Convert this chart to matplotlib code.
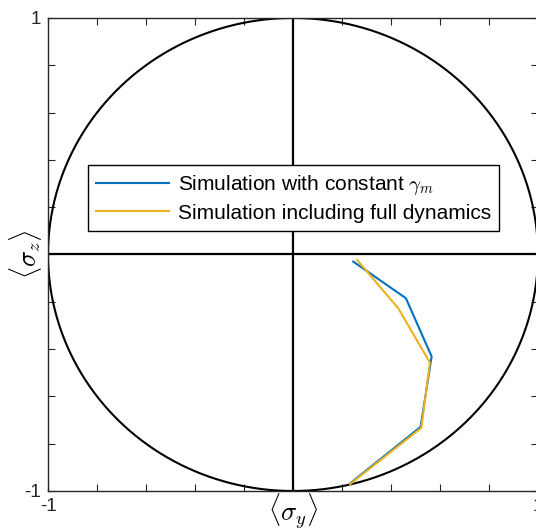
import numpy as np
import matplotlib.pyplot as plt

plt.rcParams['font.family'] = ['Liberation Sans', 'DejaVu Sans']
plt.rcParams['mathtext.fontset'] = 'cm'

# trajectories on the Bloch circle (sigma_y, sigma_z)
sy_const = [0.246, 0.461, 0.566, 0.521, 0.233]
sz_const = [-0.030, -0.185, -0.431, -0.729, -0.968]
sy_full = [0.262, 0.430, 0.559, 0.524, 0.233]
sz_full = [-0.023, -0.228, -0.457, -0.733, -0.971]

tick_vals = np.round(np.arange(-1, 1.01, 0.2), 1)
tick_labels = ['-1'] + [''] * 9 + ['1']

fig = plt.figure(figsize=(5.36, 5.30), dpi=100)
ax = fig.add_axes([0.0896, 0.0736, 0.914, 0.8925])

t = np.linspace(0, 2 * np.pi, 400)
ax.plot(np.cos(t), np.sin(t), color='black', lw=1.5)
ax.plot([-1, 1], [0, 0], color='black', lw=1.6)
ax.plot([0, 0], [-1, 1], color='black', lw=1.6)

ax.plot(sy_const, sz_const, color='#0072BD', lw=1.5,
        label=r'Simulation with constant $\gamma_m$')
ax.plot(sy_full, sz_full, color='#EDB120', lw=1.5,
        label='Simulation including full dynamics')

ax.set_xlim(-1, 1)
ax.set_ylim(-1, 1)
ax.set_xticks(tick_vals)
ax.set_xticklabels(tick_labels)
ax.set_yticks(tick_vals)
ax.set_yticklabels(tick_labels)
ax.tick_params(direction='in', length=5, width=0.8, top=True, right=True,
               labelsize=13.5, colors='#262626', pad=5)
for s in ax.spines.values():
    s.set_color('#262626')
    s.set_linewidth(1.0)

ax.set_xlabel(r'$\langle\sigma_y\rangle$', fontsize=19, va='center')
ax.xaxis.set_label_coords(0.5, -0.044)
ax.set_ylabel(r'$\langle\sigma_z\rangle$', fontsize=19, va='center')
ax.yaxis.set_label_coords(-0.045, 0.5)

leg = ax.legend(loc='upper left', bbox_to_anchor=(88 / 536, 1 - 165 / 530),
                bbox_transform=fig.transFigure, fontsize=15, fancybox=False,
                framealpha=1, edgecolor='black', handlelength=3.5,
                borderpad=0.4, labelspacing=0.3, handletextpad=0.4,
                borderaxespad=0)
leg.get_frame().set_linewidth(1.0)

fig.savefig('out.png', dpi=100)
